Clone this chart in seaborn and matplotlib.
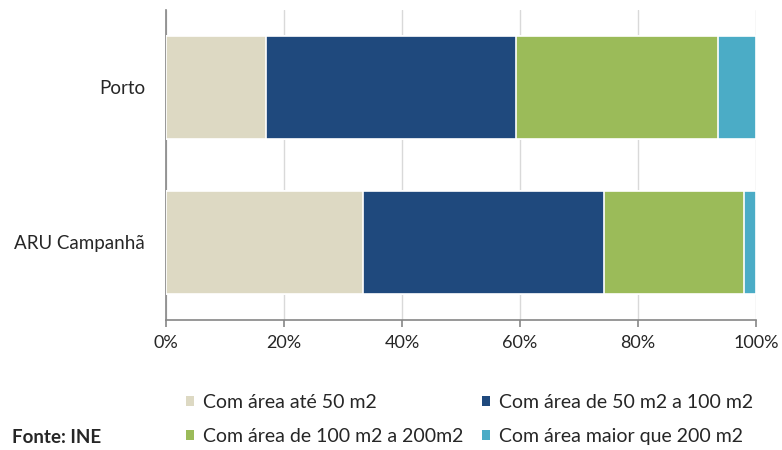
import matplotlib
matplotlib.use("Agg")
import matplotlib.pyplot as plt
import seaborn as sns
import numpy as np
import pandas as pd
from matplotlib.patches import Patch

categories = ["Porto", "ARU Campanhã"]
series = ["Com área até 50 m2", "Com área de 50 m2 a 100 m2",
          "Com área de 100 m2 a 200m2", "Com área maior que 200 m2"]
ate50 = [17.0, 33.4]
de50a100 = [42.3, 40.9]
de100a200 = [34.3, 23.7]
maior200 = [6.4, 2.0]
colors = ["#ddd9c3", "#1f497d", "#9bbb59", "#4bacc6"]
xticks = [0, 20, 40, 60, 80, 100]
xticklabels = ["0%", "20%", "40%", "60%", "80%", "100%"]

sns.set_theme(style="white")
plt.rcParams["font.family"] = ["Lato", "DejaVu Sans"]

vals = np.array([ate50, de50a100, de100a200, maior200])
cum = np.cumsum(vals, axis=0)

fig = plt.figure(figsize=(7.82, 4.5), dpi=100)
ax = fig.add_axes([0.2123, 0.2889, 0.7545, 0.6889])

for i in range(len(series) - 1, -1, -1):
    df = pd.DataFrame({"cat": categories, "val": cum[i]})
    sns.barplot(data=df, x="val", y="cat", orient="h", color=colors[i],
                width=0.66, edgecolor="white", linewidth=1.2, ax=ax,
                saturation=1, zorder=3)

ax.set_xlim(0, 100)
ax.set_ylim(1.5, -0.5)
ax.set_xticks(xticks)
ax.set_xticklabels(xticklabels, fontsize=13)
ax.set_yticks([0, 1])
ax.set_yticklabels(categories, fontsize=13.5)
ax.set_xlabel("")
ax.set_ylabel("")
ax.tick_params(axis="y", length=0, pad=15)
ax.set_yticks([-0.5, 0.5, 1.5], minor=True)
ax.tick_params(axis="y", which="minor", length=5, color="#868686", width=1.2)
ax.tick_params(axis="x", length=5, color="#868686", width=1.2, direction="out", bottom=True, pad=6)
ax.grid(axis="x", color="#d9d9d9", linewidth=1.0, zorder=0)
ax.set_axisbelow(True)
for s in ["top", "right"]:
    ax.spines[s].set_visible(False)
for s in ["left", "bottom"]:
    ax.spines[s].set_color("#868686")
    ax.spines[s].set_linewidth(1.2)

handles = [Patch(facecolor=c, edgecolor="none") for c in colors]
fig.legend([handles[k] for k in [0, 2, 1, 3]], [series[k] for k in [0, 2, 1, 3]],
           ncol=2, loc="center left", bbox_to_anchor=(0.238, 0.068),
           frameon=False, fontsize=14, handlelength=0.4, handleheight=0.4,
           handletextpad=0.45, columnspacing=1.0, labelspacing=0.9,
           borderpad=0, borderaxespad=0)
fig.text(0.015, 0.015, "Fonte: INE", fontsize=13.5, fontweight="bold")

fig.savefig("out.png", dpi=100)
